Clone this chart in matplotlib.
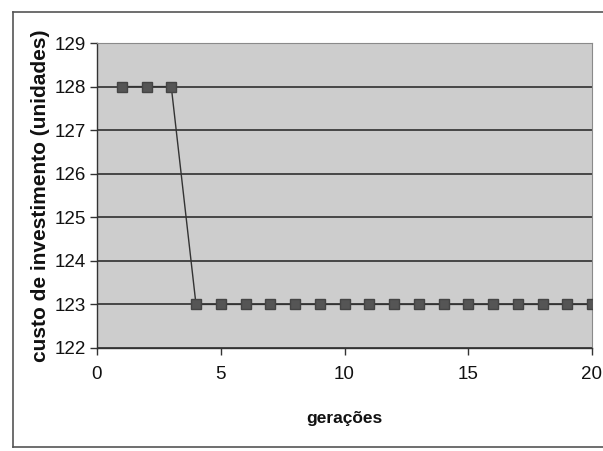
import matplotlib
matplotlib.use("Agg")
import matplotlib.pyplot as plt
from matplotlib.lines import Line2D

# Investment cost per generation
geracoes = [1, 2, 3, 4, 5, 6, 7, 8, 9, 10, 11, 12, 13, 14, 15, 16, 17, 18, 19, 20]
custo = [128, 128, 128, 123, 123, 123, 123, 123, 123, 123,
         123, 123, 123, 123, 123, 123, 123, 123, 123, 123]
x_ticks = [0, 5, 10, 15, 20]
y_ticks = [122, 123, 124, 125, 126, 127, 128, 129]

plt.rcParams['font.family'] = ['Liberation Sans', 'DejaVu Sans']

W, H = 603, 451
fig = plt.figure(figsize=(W / 100, H / 100), dpi=100)
fig.patch.set_facecolor('white')

# outer chart frame (left, top, bottom edges)
fx0, fy0, fy1 = 13 / W, 1 - 447 / H, 1 - 12 / H
for xs, ys in [([fx0, fx0], [fy0, fy1]), ([fx0, 1.0], [fy1, fy1]), ([fx0, 1.0], [fy0, fy0])]:
    fig.add_artist(Line2D(xs, ys, transform=fig.transFigure, color='#555555', lw=1.2))

ax = fig.add_axes([97 / W, 1 - 348 / H, (592 - 97) / W, (348 - 43) / H])
ax.set_facecolor('#cdcdcd')

ax.set_xlim(0, 20)
ax.set_ylim(122, 129)
ax.set_xticks(x_ticks)
ax.set_yticks(y_ticks)
ax.yaxis.grid(True, color='#222222', lw=1.1)
ax.set_axisbelow(True)

ax.plot(geracoes, custo, color='#333333', lw=1.0, marker='s', markersize=7.5,
        markerfacecolor='#555555', markeredgecolor='#444444', zorder=3)

for side in ['top', 'right']:
    ax.spines[side].set_color('#8a8a8a')
    ax.spines[side].set_linewidth(0.8)
for side in ['left', 'bottom']:
    ax.spines[side].set_color('#333333')
    ax.spines[side].set_linewidth(1.0)

ax.tick_params(axis='both', direction='out', length=5, width=1, color='#333333',
               labelsize=13.5, labelcolor='#111111')
ax.tick_params(axis='x', pad=8)
ax.tick_params(axis='y', pad=3)

ax.set_ylabel('custo de investimento (unidades)', fontsize=15, fontweight='bold',
              color='#111111', labelpad=3)
ax.set_xlabel('gerações', fontsize=12.5, fontweight='bold', color='#111111', labelpad=20)

fig.savefig('out.png', dpi=100)
